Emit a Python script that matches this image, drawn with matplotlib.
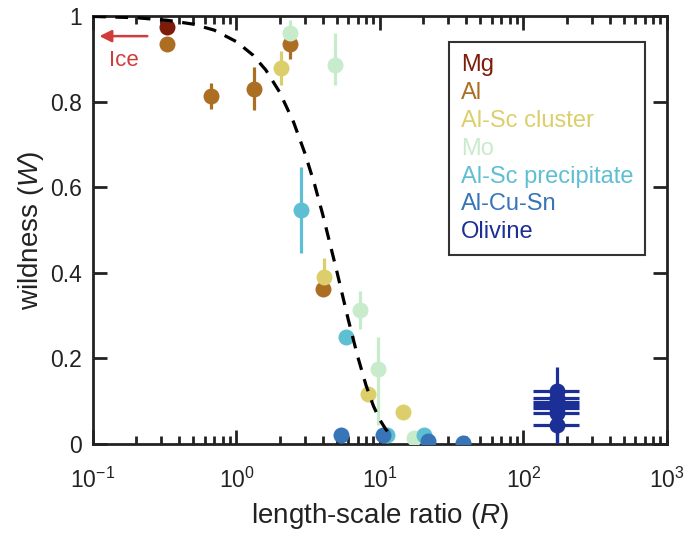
import matplotlib
matplotlib.use('Agg')
import matplotlib.pyplot as plt

plt.rcParams['font.family'] = ['Liberation Sans', 'DejaVu Sans']
plt.rcParams['mathtext.fontset'] = 'custom'
plt.rcParams['mathtext.rm'] = 'Liberation Sans'
plt.rcParams['mathtext.it'] = 'Liberation Sans:italic'

# data: (R, W, W error low/high)
names = ['Mg', 'Al', 'Al-Sc cluster', 'Mo', 'Al-Sc precipitate', 'Al-Cu-Sn', 'Olivine']
colors = ['#7e1c0b', '#ac6e22', '#dccf6b', '#c8ebcc', '#5ebfd3', '#3774b8', '#1b2f97']

mg_R = [0.33]
mg_W = [0.974]
mg_err = [[0.0], [0.0]]

al_R = [0.33, 0.66, 1.32, 2.36, 4.0]
al_W = [0.935, 0.813, 0.83, 0.935, 0.362]
al_err = [[0.0, 0.03, 0.05, 0.035, 0.0], [0.0, 0.03, 0.05, 0.025, 0.0]]

alsc_cl_R = [2.04, 4.07, 8.2, 14.5]
alsc_cl_W = [0.878, 0.39, 0.118, 0.075]
alsc_cl_err = [[0.04, 0.04, 0.0, 0.0], [0.04, 0.045, 0.0, 0.0]]

mo_R = [2.36, 4.85, 7.3, 9.7, 17.3]
mo_W = [0.96, 0.885, 0.313, 0.175, 0.015]
mo_err = [[0.03, 0.045, 0.045, 0.13, 0.0], [0.03, 0.075, 0.045, 0.075, 0.0]]

alsc_pr_R = [2.81, 5.8, 11.2, 20.4]
alsc_pr_W = [0.547, 0.25, 0.02, 0.022]
alsc_pr_err = [[0.1, 0.0, 0.0, 0.0], [0.1, 0.0, 0.0, 0.0]]

alcusn_R = [5.35, 10.5, 21.5, 37.8]
alcusn_W = [0.02, 0.02, 0.008, 0.003]
alcusn_err = [[0.0, 0.0, 0.0, 0.0], [0.0, 0.0, 0.0, 0.0]]

ol_R = [170, 170, 170, 170, 170, 170, 170]
ol_W = [0.125, 0.107, 0.098, 0.091, 0.084, 0.072, 0.045]
ol_err = [[0.125, 0.05, 0.05, 0.05, 0.05, 0.05, 0.045], [0.055, 0.03, 0.03, 0.03, 0.03, 0.03, 0.03]]
ol_xerr = [[54] * 7, [74] * 7]

# dashed model curve
curve_R = [0.1, 0.2, 0.33, 0.5, 0.7, 1.0, 1.3, 1.6, 2.0, 2.5, 3.0, 3.5, 4.0,
           5.0, 6.0, 7.0, 8.0, 9.0, 10.0, 11.0, 12.0]
curve_W = [0.999, 0.996, 0.99, 0.981, 0.967, 0.94, 0.909, 0.874, 0.822, 0.752,
           0.679, 0.607, 0.535, 0.404, 0.292, 0.204, 0.137, 0.089, 0.056, 0.034, 0.02]

series = [
    (mg_R, mg_W, mg_err, None),
    (al_R, al_W, al_err, None),
    (alsc_cl_R, alsc_cl_W, alsc_cl_err, None),
    (mo_R, mo_W, mo_err, None),
    (alsc_pr_R, alsc_pr_W, alsc_pr_err, None),
    (alcusn_R, alcusn_W, alcusn_err, None),
    (ol_R, ol_W, ol_err, ol_xerr),
]

fig = plt.figure(figsize=(6.94, 5.34), dpi=100)
ax = fig.add_axes([0.134, 0.1685, 0.827, 0.8015])

for (R, W, err, xerr), c in zip(series, colors):
    ax.errorbar(R, W, yerr=err, xerr=xerr, fmt='o', color=c, ms=11.5,
                mec='none', elinewidth=2.3, capsize=0, zorder=3)

ax.plot(curve_R, curve_W, color='black', lw=2.3, ls=(0, (4, 3)), zorder=4)

# ice arrow
ax.annotate('', xy=(0.106, 0.953), xytext=(0.25, 0.953),
            arrowprops=dict(arrowstyle='-|>', color='#d03c3c', lw=1.8,
                            mutation_scale=18))
ax.text(0.163, 0.895, 'Ice', color='#d03c3c', fontsize=16, ha='center', va='center')

ax.set_xscale('log')
ax.set_xlim(0.1, 1000)
ax.set_ylim(0, 1)
ax.set_yticks([0, 0.2, 0.4, 0.6, 0.8, 1])
ax.set_yticklabels(['0', '0.2', '0.4', '0.6', '0.8', '1'])
ax.tick_params(which='both', direction='in', top=True, right=True, labelsize=16.5,
               width=2, color='#222222', labelcolor='#222222')
ax.tick_params(which='major', length=10)
ax.tick_params(which='minor', length=6)
ax.tick_params(axis='x', which='major', pad=17)
ax.tick_params(axis='y', which='major', pad=8)
ax.tick_params(axis='y', which='minor', left=False, right=False)
for s in ax.spines.values():
    s.set_linewidth(2)
    s.set_color('#222222')

ax.set_xlabel('length-scale ratio ($R$)', fontsize=20, labelpad=6, color='#222222')
ax.set_ylabel('wildness ($W$)', fontsize=20, labelpad=3, color='#222222')

# text-only legend
leg = ax.legend([plt.Line2D([], [], ls='none')] * len(names), names,
                loc='upper right', bbox_to_anchor=(0.9617, 0.939), borderaxespad=0,
                handlelength=0, handletextpad=0, fontsize=17,
                frameon=True, fancybox=False, edgecolor='black',
                labelspacing=0.25, borderpad=0.5)
leg.get_frame().set_linewidth(1.5)
for t, c in zip(leg.get_texts(), colors):
    t.set_color(c)

fig.savefig('out.png', dpi=100)
